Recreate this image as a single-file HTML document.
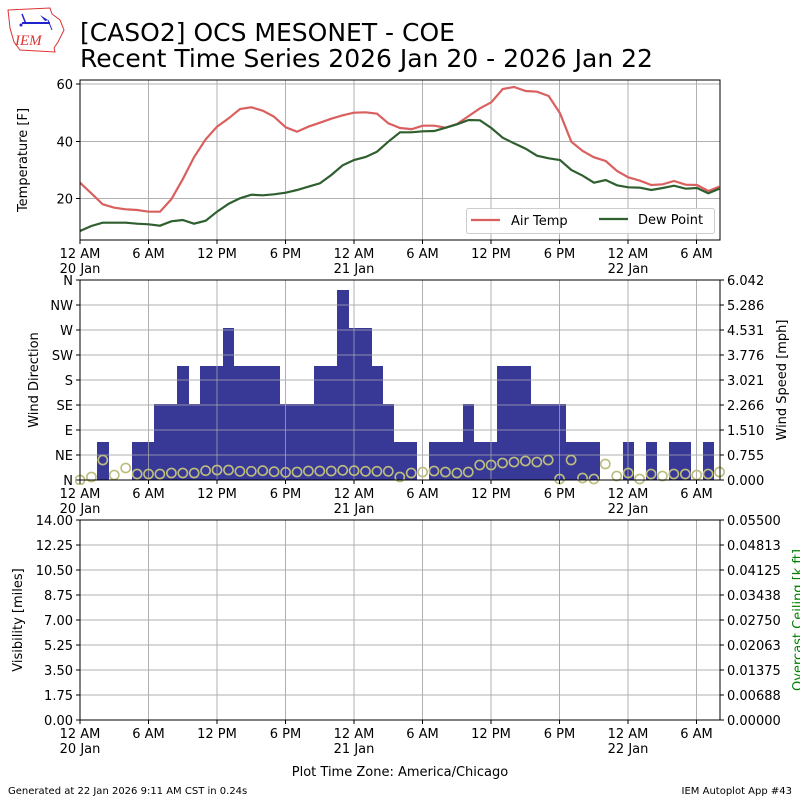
<!DOCTYPE html>
<html><head><meta charset="utf-8"><style>
html,body{margin:0;padding:0;background:#fff}
svg{display:block;font-family:"DejaVu Sans","Liberation Sans",sans-serif}
</style></head><body>
<svg id="s" width="800" height="800" viewBox="0 0 800 800" xmlns="http://www.w3.org/2000/svg">
<g id="logo">
<path d="M8,10 L50,8 L52,14 L60,20 L64,30 L58,42 L54,48 L55,52 L20,50 L14,42 L10,28 Z" fill="none" stroke="#d33" stroke-width="1"/>
<line x1="22" y1="23" x2="50" y2="23" stroke="#22c" stroke-width="2"/>
<line x1="22" y1="14" x2="26" y2="24" stroke="#22c" stroke-width="1.5"/>
<path d="M40,15 L48,20 L45,21 Z" fill="#22c"/>
<line x1="48" y1="20" x2="52" y2="30" stroke="#22c" stroke-width="1"/>
<circle cx="21" cy="25" r="1.5" fill="#22c"/>
<text x="15" y="45" font-family="Liberation Serif,serif" font-style="italic" font-size="15" fill="#d33">IEM</text>
</g>
<text x="80" y="41" font-size="25">[CASO2] OCS MESONET - COE</text>
<text x="80" y="67" font-size="25">Recent Time Series 2026 Jan 20 - 2026 Jan 22</text>
<g id="g"></g>
<text x="8" y="794" font-size="10">Generated at 22 Jan 2026 9:11 AM CST in 0.24s</text>
<text x="792" y="794" font-size="10" text-anchor="end">IEM Autoplot App #43</text>
<text x="400" y="776" font-size="13" text-anchor="middle">Plot Time Zone: America/Chicago</text>
</svg>
<script>
var g=document.getElementById('g'),h='';
var X=[80,148.5,217,285.5,354,422.5,491,559.5,628,696.5];
var L=['12 AM','6 AM','12 PM','6 PM','12 AM','6 AM','12 PM','6 PM','12 AM','6 AM'];
var D={0:'20 Jan',4:'21 Jan',8:'22 Jan'};
function xax(yb){X.forEach(function(x,i){h+='<line x1="'+x+'" y1="'+yb+'" x2="'+x+'" y2="'+(yb+4)+'" stroke="#000"/>';
h+='<text x="'+x+'" y="'+(yb+18)+'" font-size="13" text-anchor="middle">'+L[i]+'</text>';
if(D[i])h+='<text x="'+x+'" y="'+(yb+33)+'" font-size="13" text-anchor="middle">'+D[i]+'</text>';});}
function vgrid(t,b){X.forEach(function(x){h+='<line x1="'+x+'" y1="'+t+'" x2="'+x+'" y2="'+b+'" stroke="#b0b0b0"/>';});}
vgrid(80,240);
[[60,84],[40,141.5],[20,198.5]].forEach(function(a){h+='<line x1="80" y1="'+a[1]+'" x2="720" y2="'+a[1]+'" stroke="#b0b0b0"/><line x1="76" y1="'+a[1]+'" x2="80" y2="'+a[1]+'" stroke="#000"/><text x="73" y="'+(a[1]+5)+'" font-size="13" text-anchor="end">'+a[0]+'</text>';});
var air1=[0,308,34,340,68,373,103,383,137,388,171,390,206,395,240,395,274,358,308,298,342,232,377,178,411,140,446,115,480,87,514,82,548,92,582,110,617,142,651,155,685,140,720,128,754,116,788,106,822,98,857,97,891,101,925,130,960,144,990,147];
var dew1=[0,453,34,438,68,428,103,428,137,428,171,431,206,433,240,437,274,424,308,420,342,431,377,422,411,395,446,371,480,355,514,344,548,346,582,343,617,338,651,330,685,320,720,310,754,285,788,256,822,240,857,231,891,215,925,185,960,157,990,157];
var air2=[34,148,68,137,103,137,137,143,171,132,206,108,240,85,274,67,308,27,342,21,377,33,411,35,446,48,480,100,514,185,548,213,582,232,617,243,651,273,685,292,720,302,754,315,788,313,822,303,857,314,891,315,925,333,958,320];
var dew2=[34,157,68,154,103,153,137,143,171,133,206,120,240,121,274,144,308,173,342,190,377,206,411,227,446,235,480,240,514,270,548,287,582,308,617,300,651,316,685,322,720,323,754,330,788,324,822,317,857,326,891,324,925,340,958,326];
function pts(a,ox){var s='';for(var i=0;i<a.length;i+=2)s+=(ox+a[i]/3).toFixed(1)+','+(80+a[i+1]/3).toFixed(1)+' ';return s;}
h+='<polyline points="'+pts(air1,80)+pts(air2,400)+'" fill="none" stroke="#d9605e" stroke-width="2.2"/>';
h+='<polyline points="'+pts(dew1,80)+pts(dew2,400)+'" fill="none" stroke="#2f5f2f" stroke-width="2.2"/>';
h+='<rect x="80" y="80" width="640" height="160" fill="none" stroke="#000"/>';
h+='<rect x="466.5" y="208.5" width="248" height="25" rx="2" fill="#fff" fill-opacity="0.8" stroke="#ccc"/>';
h+='<line x1="471" y1="220" x2="500" y2="220" stroke="#d9605e" stroke-width="2.2"/><text x="511" y="225" font-size="13">Air Temp</text>';
h+='<line x1="599" y1="219" x2="628" y2="219" stroke="#2f5f2f" stroke-width="2.2"/><text x="638" y="224" font-size="13">Dew Point</text>';
xax(240);
h+='<text transform="translate(27,160) rotate(-90)" font-size="13" text-anchor="middle">Temperature [F]</text>';
var dirs=['N','NE','E','SE','S','SW','W','NW','N'],spd=['0.000','0.755','1.510','2.266','3.021','3.776','4.531','5.286','6.042'];
vgrid(280,480);
for(var k=0;k<9;k++){var y=480-25*k;
h+='<line x1="80" y1="'+y+'" x2="720" y2="'+y+'" stroke="#b0b0b0"/><line x1="76" y1="'+y+'" x2="80" y2="'+y+'" stroke="#000"/><text x="73" y="'+(y+5)+'" font-size="13" text-anchor="end">'+dirs[k]+'</text>';
h+='<line x1="720" y1="'+y+'" x2="724" y2="'+y+'" stroke="#000"/><text x="727" y="'+(y+5)+'" font-size="13">'+spd[k]+'</text>';}
var bars=[[97,109,442],[132,154,442],[154,177,404],[177,189,366],[189,200,404],[200,223,366],[223,234,328],[234,280,366],[280,314,404],[314,337,366],[337,349,290],[349,372,328],[372,383,366],[383,394,404],[394,417,442],[429,463,442],[463,474,404],[474,497,442],[497,531,366],[531,566,404],[566,600,442],[623,634,442],[646,657,442],[669,691,442],[703,714,442]];
var bh='';bars.forEach(function(b){bh+='<rect x="'+b[0]+'" y="'+b[2]+'" width="'+(b[1]-b[0])+'" height="'+(480-b[2])+'" fill="#383897"/>';});
h+=bh;
X.forEach(function(x){h+='<line x1="'+x+'" y1="280" x2="'+x+'" y2="480" stroke="#b0b0b0" stroke-opacity="0.7"/>';});
for(var k=1;k<8;k++){var y=480-25*k;h+='<line x1="80" y1="'+y+'" x2="720" y2="'+y+'" stroke="#b0b0b0" stroke-opacity="0.7"/>';}
var cy=[480,477,460,475,468,474,474,474,473,473,473,470.7,470,470,471.3,471.3,470.7,471.7,472.3,472,471,471,471,470.3,470.7,471.3,471.3,471.3,477,473,472,471,472,473,472,465,465,463,462,461,462,460,479,460,478,479,464,476,473,479,474,476,474,474,475,474,472];
var c='';cy.forEach(function(y,i){c+='<circle cx="'+(80+i*11.42).toFixed(1)+'" cy="'+y+'" r="4.6" fill="none" stroke="#bdbd7e" stroke-width="1.6"/>';});
h+='<clipPath id="cp"><rect x="75" y="275" width="650" height="210"/></clipPath><g clip-path="url(#cp)">'+c+'</g>';
h+='<rect x="80" y="280" width="640" height="200" fill="none" stroke="#000"/>';
xax(480);
h+='<text transform="translate(38,380) rotate(-90)" font-size="13" text-anchor="middle">Wind Direction</text>';
h+='<text transform="translate(786,380) rotate(-90)" font-size="13" text-anchor="middle">Wind Speed [mph]</text>';
var vis=['0.00','1.75','3.50','5.25','7.00','8.75','10.50','12.25','14.00'],cl=['0.00000','0.00688','0.01375','0.02063','0.02750','0.03438','0.04125','0.04813','0.05500'];
vgrid(520,720);
for(var k=0;k<9;k++){var y=720-25*k;
h+='<line x1="80" y1="'+y+'" x2="720" y2="'+y+'" stroke="#b0b0b0"/><line x1="76" y1="'+y+'" x2="80" y2="'+y+'" stroke="#000"/><text x="73" y="'+(y+5)+'" font-size="13" text-anchor="end">'+vis[k]+'</text>';
h+='<line x1="720" y1="'+y+'" x2="724" y2="'+y+'" stroke="#000"/><text x="727" y="'+(y+5)+'" font-size="13">'+cl[k]+'</text>';}
h+='<rect x="80" y="520" width="640" height="200" fill="none" stroke="#000"/>';
xax(720);
h+='<text transform="translate(22,620) rotate(-90)" font-size="13" text-anchor="middle">Visibility [miles]</text>';
h+='<text transform="translate(802,620) rotate(-90)" font-size="13" fill="#008000" text-anchor="middle">Overcast Ceiling [k ft]</text>';
g.innerHTML=h;
</script>
</body></html>
